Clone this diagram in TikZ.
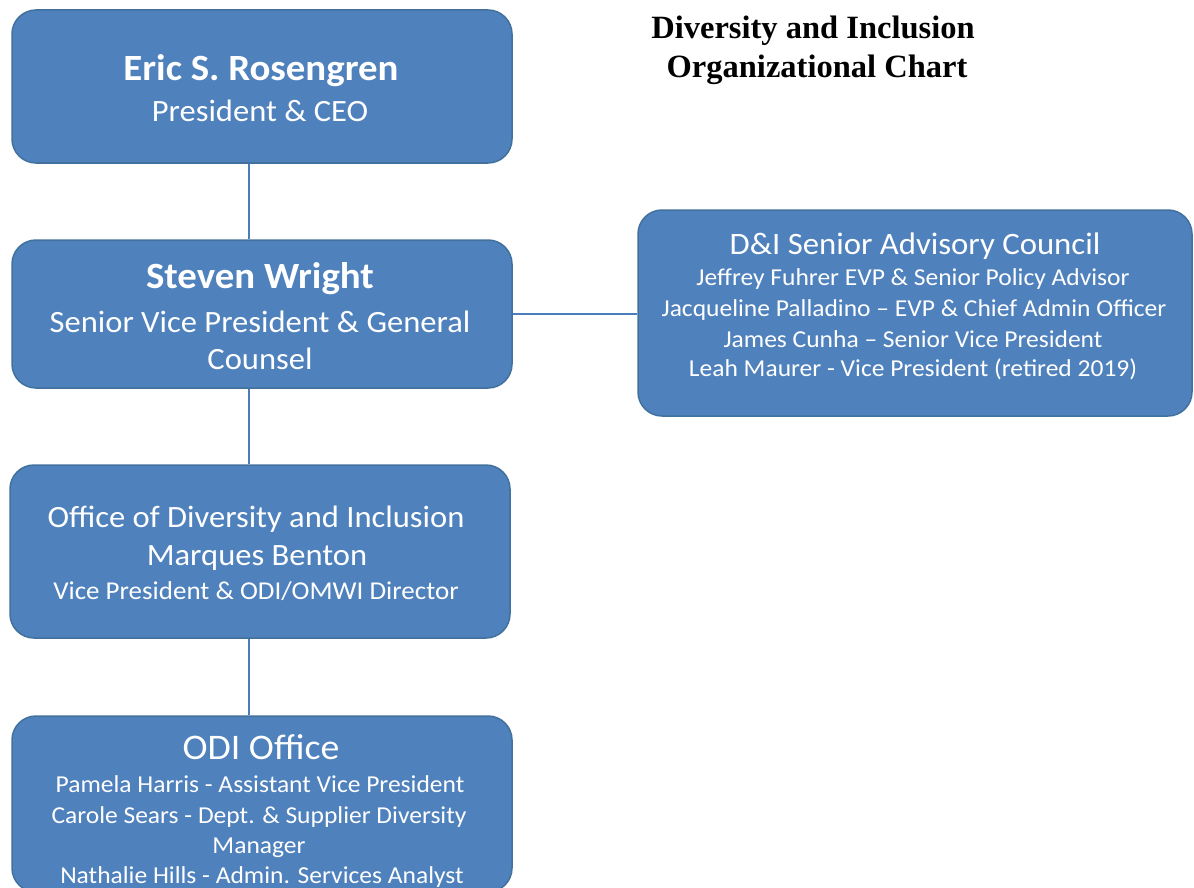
\documentclass[tikz,border=0pt]{standalone}
\usepackage{fontspec}
\setmainfont{Carlito}[FakeStretch=1.05]
\newfontfamily\titlefont{Liberation Serif}
\definecolor{boxfill}{HTML}{4F81BD}
\definecolor{boxline}{HTML}{41719C}
\definecolor{conn}{HTML}{4A7EBB}
\tikzset{
  orgbox/.style={draw=boxline, line width=1.5pt, fill=boxfill, rounded corners=24pt, inner sep=0pt},
  txt/.style={text=white, anchor=base, inner sep=0pt},
  big/.style={txt, font=\fontsize{37}{40}\selectfont\bfseries},
  mid/.style={txt, font=\fontsize{31}{34}\selectfont},
  sml/.style={txt, font=\fontsize{24.3}{27}\selectfont},
  connector/.style={draw=conn, line width=2pt},
  ttl/.style={anchor=base, inner sep=0pt, font=\titlefont\bfseries\fontsize{32.5}{36}\selectfont},
}
\begin{document}
\begin{tikzpicture}[x=1pt,y=-1pt]
\useasboundingbox (0,0) rectangle (1194,888);
\begin{scope}
\clip (0,0) rectangle (1194,888);
\node[orgbox, minimum width=500pt, minimum height=153pt] (b1) at (262,86.5) {};
\node[orgbox, minimum width=500pt, minimum height=148pt] (b2) at (262,314) {};
\node[orgbox, minimum width=500pt, minimum height=173pt] (b3) at (260,551.5) {};
\node[orgbox, minimum width=500pt, minimum height=176pt] (b4) at (262,804) {};
\node[orgbox, minimum width=554pt, minimum height=206pt] (c) at (915,313) {};

\draw[connector] ([xshift=-13pt]b1.south) -- ([xshift=-13pt]b2.north);
\draw[connector] ([xshift=-13pt]b2.south) -- ([xshift=-11pt]b3.north);
\draw[connector] ([xshift=-11pt]b3.south) -- ([xshift=-13pt]b4.north);
\draw[connector] (b2.east) -- (b2.east -| c.west);

\node[big] (b1a) at (261,81) {Eric S. Rosengren};
\node[mid] (b1b) at (260,122) {President \& CEO};

\node[big] (b2a) at (260,288) {Steven Wright};
\node[mid] (b2b) at (260,332) {Senior Vice President \& General};
\node[mid] (b2c) at (260,369) {Counsel};

\node[mid] (b3a) at (256,527) {Office of Diversity and Inclusion};
\node[mid] (b3b) at (257,565) {Marques Benton};
\node[txt, font=\fontsize{25.7}{28}\selectfont] (b3c) at (256,599) {Vice President \& ODI/OMWI Director};

\node[txt, font=\fontsize{36}{40}\selectfont] (b4a) at (261,759) {ODI Office};
\node[sml] (b4b) at (260,792.5) {Pamela Harris - Assistant Vice President};
\node[sml] (b4c) at (259,823.5) {Carole Sears - Dept. \& Supplier Diversity};
\node[sml] (b4d) at (259,853.5) {Manager};
\node[sml] (b4e) at (262,883.5) {Nathalie Hills - Admin. Services Analyst};

\node[txt, font=\fontsize{31.2}{34}\selectfont] (ca) at (915,254) {D\&I Senior Advisory Council};
\node[sml] (cb) at (913,285) {Jeffrey Fuhrer EVP \& Senior Policy Advisor};
\node[sml] (cc) at (914,316) {Jacqueline Palladino -- EVP \& Chief Admin Officer};
\node[sml] (cd) at (913,347) {James Cunha -- Senior Vice President};
\node[sml] (ce) at (913,376) {Leah Maurer - Vice President (retired 2019)};
\end{scope}

\node[ttl] (t1) at (813,39) {Diversity and Inclusion};
\node[ttl] (t2) at (817,78) {Organizational Chart};
\end{tikzpicture}
\end{document}
